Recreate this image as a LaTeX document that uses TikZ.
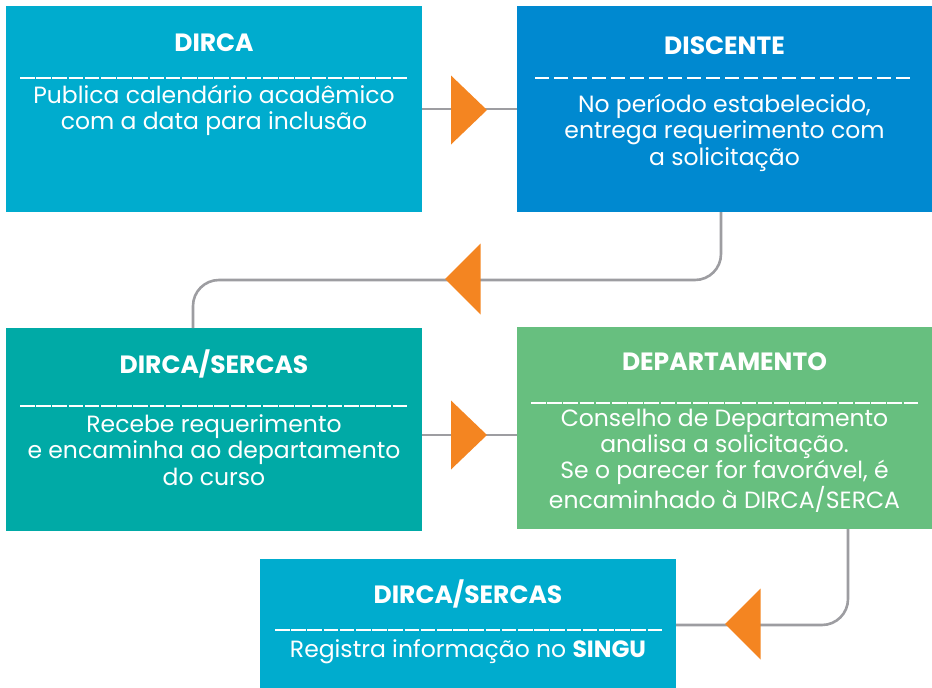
\documentclass[tikz,border=0pt]{standalone}
\usepackage{fontspec}
\setmainfont{Poppins}
\usetikzlibrary{calc}
\definecolor{cyanbox}{HTML}{00ACCE}
\definecolor{bluebox}{HTML}{0089D0}
\definecolor{tealbox}{HTML}{00AAA6}
\definecolor{greenbox}{HTML}{67BF7F}
\definecolor{arrowor}{HTML}{F48521}
\definecolor{conngray}{HTML}{9D9DA1}
\begin{document}
\begin{tikzpicture}[x=1pt,y=-1pt,
  box/.style={draw=none,inner sep=0pt,outer sep=0pt},
  ttl/.style={text=white,inner sep=0pt,anchor=base,font=\fontsize{25}{29}\bfseries\selectfont},
  body/.style={text=white,inner sep=0pt,anchor=base,align=center,font=\fontsize{23.5}{26.3}\selectfont},
  sepline/.style={draw=white,line width=2.4pt,dash pattern=on 14.6pt off 1.6pt},
  sepgap/.style={draw=white,line width=2.4pt,dash pattern=on 14pt off 5pt},
  conn/.style={draw=conngray,line width=2.6pt,rounded corners=26pt},
  pics/rtri/.style={code={\fill[arrowor] (-18,-34.5) -- (18,0) -- (-18,34.5) -- cycle;}},
  pics/ltri/.style={code={\fill[arrowor] (18,-35.5) -- (-17.5,0) -- (18,35.5) -- cycle;}}]
\useasboundingbox (0,0) rectangle (932,688);
% boxes
\node[box,fill=cyanbox,minimum width=416pt,minimum height=206pt] (b1) at (214,109) {};
\node[box,fill=bluebox,minimum width=415pt,minimum height=206pt] (b2) at (724.5,109) {};
\node[box,fill=tealbox,minimum width=416pt,minimum height=203pt] (b3) at (214,429.5) {};
\node[box,fill=greenbox,minimum width=415pt,minimum height=202pt] (b4) at (724.5,428) {};
\node[box,fill=cyanbox,minimum width=416pt,minimum height=129pt] (b5) at (468,623.5) {};
% connectors
\coordinate (k1) at (721,280);
\coordinate (k2) at (193,280);
\coordinate (y3) at (0,435);
\coordinate (k3) at (848,625);
\draw[conn] (b1.east) -- (b2.west);
\draw[conn] (b2.south -| k1) -- (k1) -- (k2) -- (b3.north -| k2);
\draw[conn] (b3.east |- y3) -- (b4.west |- y3);
\draw[conn] (b4.south -| k3) -- (k3) -- (b5.east |- k3);
% arrowheads
\coordinate (m1) at (469,110);
\coordinate (m2) at (462.5,279);
\coordinate (m3) at (469,435);
\coordinate (m4) at (742.5,624);
\pic at (m1) {rtri};
\pic at (m2) {ltri};
\pic at (m3) {rtri};
\pic at (m4) {ltri};
% box 1
\node[ttl] (t1) at (214,51) {DIRCA};
\coordinate (s1a) at (20,78); \coordinate (s1b) at (407,78);
\draw[sepline] (s1a) -- (s1b);
\node[body] (d1) at (214,129.3) {Publica calendário acadêmico\\com a data para inclusão};
% box 2
\node[ttl] (t2) at (724.5,54) {DISCENTE};
\coordinate (s2a) at (535,78); \coordinate (s2b) at (913,78);
\draw[sepgap] (s2a) -- (s2b);
\node[body] (d2) at (724.5,165) {No período estabelecido,\\entrega requerimento com\\a solicitação};
% box 3
\node[ttl] (t3) at (214,373) {DIRCA/SERCAS};
\coordinate (s3a) at (20,406); \coordinate (s3b) at (407,406);
\draw[sepline] (s3a) -- (s3b);
\node[body] (d3) at (214,485) {Recebe requerimento\\e encaminha ao departamento\\do curso};
% box 4
\node[ttl] (t4) at (724.5,370) {DEPARTAMENTO};
\coordinate (s4a) at (531,403); \coordinate (s4b) at (918,403);
\draw[sepline] (s4a) -- (s4b);
\node[body] (d4) at (724.5,508) {Conselho de Departamento\\analisa a solicitação.\\Se o parecer for favorável, é\\encaminhado à DIRCA/SERCA};
% box 5
\node[ttl] (t5) at (468,603) {DIRCA/SERCAS};
\coordinate (s5a) at (275,630); \coordinate (s5b) at (662,630);
\draw[sepline] (s5a) -- (s5b);
\node[body] (d5) at (468,657) {Registra informação no \textbf{SINGU}};
\end{tikzpicture}
\end{document}
